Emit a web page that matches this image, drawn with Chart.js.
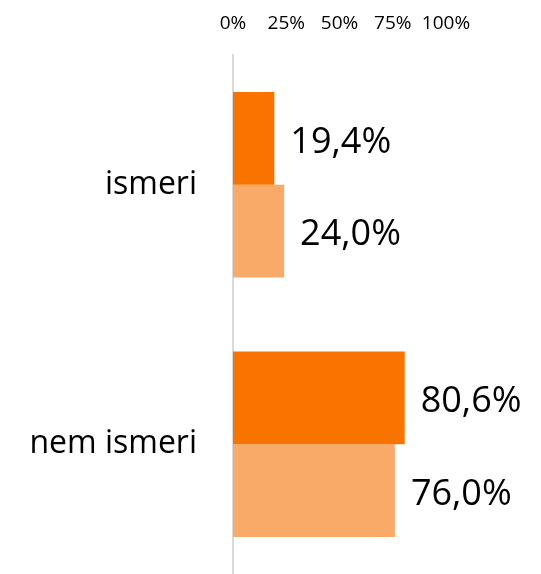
<!DOCTYPE html>
<html lang="hu">
<head>
    <meta charset="UTF-8">
    <title>ismeri / nem ismeri</title>
    <script src="https://cdn.jsdelivr.net/npm/chart.js"></script>
    <style>
        body {
            margin: 0;
            padding: 0;
            background-color: #fff;
        }
        .wrap {
            width: 541px;
            height: 574px;
            position: relative;
        }
    </style>
</head>
<body>
    <div class="wrap">
        <canvas id="chart"></canvas>
    </div>

    <script>
        // chart data
        var categories = ['ismeri', 'nem ismeri'];
        var seriesDark = [19.4, 80.6];
        var seriesLight = [24.0, 76.0];
        var tickValues = [0, 25, 50, 75, 100];

        var FONT = "'Open Sans', sans-serif";

        // value labels right of each bar, decimal comma
        var valueLabels = {
            id: 'valueLabels',
            afterDatasetsDraw: function(chart) {
                var ctx = chart.ctx;
                ctx.save();
                ctx.font = '36px ' + FONT;
                ctx.fillStyle = '#000';
                ctx.textAlign = 'left';
                ctx.textBaseline = 'middle';
                chart.data.datasets.forEach(function(ds, i) {
                    chart.getDatasetMeta(i).data.forEach(function(bar, j) {
                        var txt = ds.data[j].toFixed(1).replace('.', ',') + '%';
                        ctx.fillText(txt, bar.x + 16, bar.y + 4);
                    });
                });
                ctx.restore();
            }
        };

        var ctx = document.getElementById('chart').getContext('2d');
        var chart = new Chart(ctx, {
            type: 'bar',
            data: {
                labels: categories,
                datasets: [{
                    data: seriesDark,
                    backgroundColor: '#f97300'
                }, {
                    data: seriesLight,
                    backgroundColor: '#f9aa68'
                }]
            },
            options: {
                indexAxis: 'y',
                responsive: true,
                maintainAspectRatio: false,
                animation: false,
                layout: {
                    padding: { left: 0, right: 95, top: 0, bottom: -3 }
                },
                plugins: {
                    legend: { display: false },
                    tooltip: { enabled: false }
                },
                datasets: {
                    bar: {
                        categoryPercentage: 0.715,
                        barPercentage: 1.0
                    }
                },
                scales: {
                    x: {
                        position: 'top',
                        min: 0,
                        max: 100,
                        afterBuildTicks: function(scale) {
                            scale.ticks = tickValues.map(function(v) { return { value: v }; });
                        },
                        ticks: {
                            color: '#000',
                            font: { family: FONT, size: 19 },
                            padding: 20,
                            maxRotation: 0,
                            callback: function(v) { return v + '%'; }
                        },
                        grid: { display: false, drawTicks: false },
                        border: { display: false },
                        afterFit: function(scale) { scale.height = 55; }
                    },
                    y: {
                        ticks: {
                            color: '#000',
                            font: { family: FONT, size: 32 },
                            padding: 36
                        },
                        grid: { display: false, drawTicks: false },
                        border: { display: true, color: '#d9d9d9', width: 2 },
                        afterFit: function(scale) {
                            scale.width = 233;
                            scale.paddingTop = 0;
                            scale.paddingBottom = 0;
                        }
                    }
                }
            },
            plugins: [valueLabels]
        });
    </script>
</body>
</html>
